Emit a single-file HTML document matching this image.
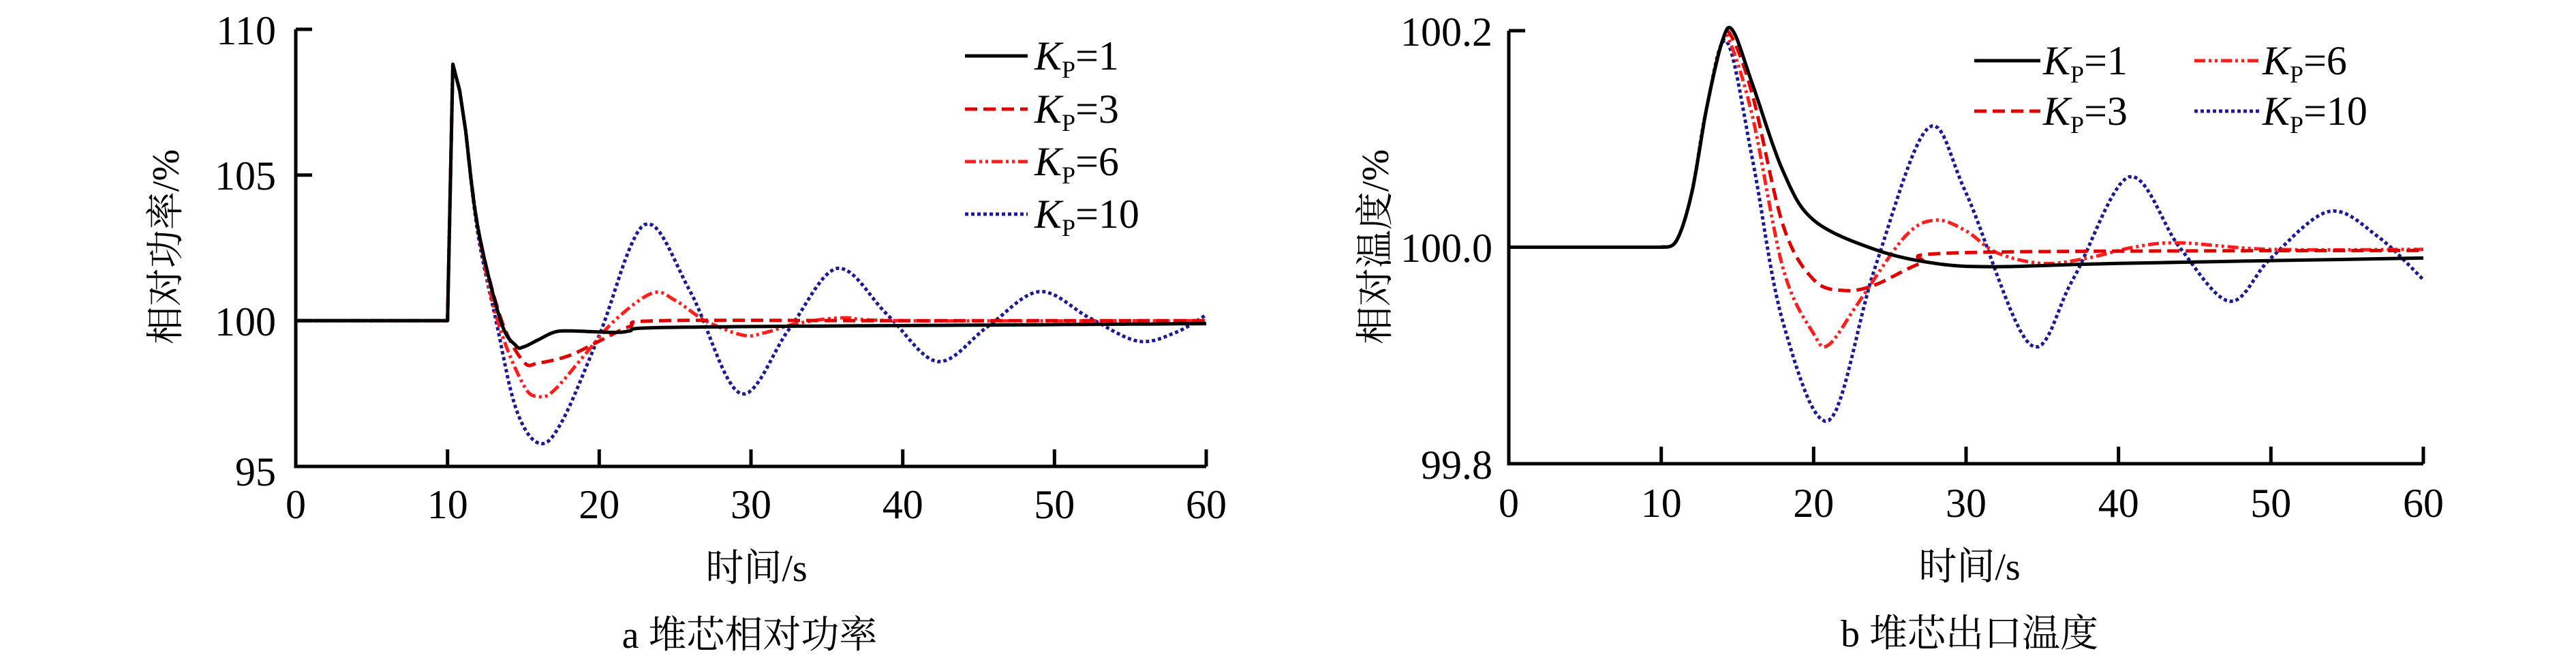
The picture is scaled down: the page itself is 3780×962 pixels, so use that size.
<!DOCTYPE html>
<html><head><meta charset="utf-8"><style>
html,body{margin:0;padding:0;background:#fff}
svg{display:block}
text{font-family:"Liberation Serif","Noto Serif CJK SC",serif;fill:#000}
.t{font-size:60px}
.c{font-family:"Liberation Serif","Noto Sans CJK SC",serif;font-size:56px}
</style></head><body>
<svg id="s" width="3780" height="962" viewBox="0 0 3780 962" xmlns="http://www.w3.org/2000/svg">
<g stroke="#000" stroke-width="5" fill="none">
<path d="M434,43 V684 H1770"/>
<path d="M434,43 H458 M434,256.7 H458 M434,470.3 H458"/>
<path d="M656.7,684 V659 M879.3,684 V659 M1102,684 V659 M1324.7,684 V659 M1547.3,684 V659 M1770,684 V659"/>
<path d="M2214,45 V680 H3556"/>
<path d="M2214,45 H2238 M2214,362.5 H2238"/>
<path d="M2437.7,680 V655 M2661.3,680 V655 M2885,680 V655 M3108.7,680 V655 M3332.3,680 V655 M3556,680 V655"/>
</g>
<g class="t" text-anchor="end">
<text x="405" y="65">110</text><text x="405" y="278">105</text><text x="405" y="492">100</text><text x="405" y="712">95</text>
<text x="2190" y="67">100.2</text><text x="2190" y="384">100.0</text><text x="2190" y="702">99.8</text>
</g>
<g class="t" text-anchor="middle">
<text x="434" y="760">0</text><text x="656.7" y="760">10</text><text x="879.3" y="760">20</text><text x="1102" y="760">30</text><text x="1324.7" y="760">40</text><text x="1547.3" y="760">50</text><text x="1770" y="760">60</text>
<text x="2214" y="758">0</text><text x="2437.7" y="758">10</text><text x="2661.3" y="758">20</text><text x="2885" y="758">30</text><text x="3108.7" y="758">40</text><text x="3332.3" y="758">50</text><text x="3556" y="758">60</text>
</g>
<g class="c" text-anchor="middle">
<text x="1110" y="852">时间/s</text>
<text x="2890" y="850">时间/s</text>
<text x="1100" y="950">a  堆芯相对功率</text>
<text x="2890" y="948">b  堆芯出口温度</text>
<text transform="translate(262,362) rotate(-90)">相对功率/%</text>
<text transform="translate(2037,362) rotate(-90)">相对温度/%</text>
</g>
<g id="curves" fill="none" stroke-width="5" stroke-linejoin="round"></g>
<g fill="none" stroke-width="5">
<path d="M1416,82 H1508" stroke="#000"/>
<path d="M1416,160 H1508" stroke="#e00000" stroke-dasharray="18,9"/>
<path d="M1416,237 H1508" stroke="#ff1e1e" stroke-dasharray="16,5,4,5,4,5"/>
<path d="M1416,314 H1508" stroke="#1a1a96" stroke-dasharray="5,4"/>
<path d="M2897,89 H2994" stroke="#000"/>
<path d="M2897,163 H2994" stroke="#e00000" stroke-dasharray="18,9"/>
<path d="M3220,89 H3317" stroke="#ff1e1e" stroke-dasharray="16,5,4,5,4,5"/>
<path d="M3220,163 H3317" stroke="#1a1a96" stroke-dasharray="5,4"/>
</g>
<g class="t">
<text x="1518" y="102"><tspan font-style="italic">K</tspan><tspan font-size="36" dy="12">P</tspan><tspan dy="-12">=1</tspan></text>
<text x="1518" y="180"><tspan font-style="italic">K</tspan><tspan font-size="36" dy="12">P</tspan><tspan dy="-12">=3</tspan></text>
<text x="1518" y="257"><tspan font-style="italic">K</tspan><tspan font-size="36" dy="12">P</tspan><tspan dy="-12">=6</tspan></text>
<text x="1518" y="334"><tspan font-style="italic">K</tspan><tspan font-size="36" dy="12">P</tspan><tspan dy="-12">=10</tspan></text>
<text x="2998" y="109"><tspan font-style="italic">K</tspan><tspan font-size="36" dy="12">P</tspan><tspan dy="-12">=1</tspan></text>
<text x="2998" y="183"><tspan font-style="italic">K</tspan><tspan font-size="36" dy="12">P</tspan><tspan dy="-12">=3</tspan></text>
<text x="3320" y="109"><tspan font-style="italic">K</tspan><tspan font-size="36" dy="12">P</tspan><tspan dy="-12">=6</tspan></text>
<text x="3320" y="183"><tspan font-style="italic">K</tspan><tspan font-size="36" dy="12">P</tspan><tspan dy="-12">=10</tspan></text>
</g>
</svg>
<script>
function spl(pts,fx,fy){
  var out=[];
  for(var i=0;i<pts.length-1;i++){
    var p0=pts[Math.max(0,i-1)],p1=pts[i],p2=pts[i+1],p3=pts[Math.min(pts.length-1,i+2)];
    for(var k=0;k<12;k++){
      var s=k/12,s2=s*s,s3=s2*s;
      var f=function(a,b,c,d){return 0.5*((2*b)+(-a+c)*s+(2*a-5*b+4*c-d)*s2+(-a+3*b-3*c+d)*s3);};
      out.push(fx(f(p0[0],p1[0],p2[0],p3[0])).toFixed(1)+","+fy(f(p0[1],p1[1],p2[1],p3[1])).toFixed(1));
    }
  }
  var l=pts[pts.length-1];out.push(fx(l[0]).toFixed(1)+","+fy(l[1]).toFixed(1));
  return out;
}
function mk(lin,sp,fx,fy){
  var o=lin.map(function(p){return fx(p[0]).toFixed(1)+","+fy(p[1]).toFixed(1);});
  return "M"+o.concat(spl(sp,fx,fy)).join(" L");
}
var ax=function(t){return 434+t*22.267},ay=function(v){return 43+(110-v)*42.733};
var bx=function(t){return 2214+t*22.367},by=function(v){return 45+(100.2-v)*1587.5};
var A0=[[0,100],[10,100],[10.35,108.8],[10.8,107.9]];
var a1=[[11.2,106.5],[12,103.2],[13.5,100],[14.5,99.15],[15,99.1],[16,99.35],[17,99.6],[18,99.65],[21,99.6],[22,99.65],[23,99.75],[30,99.8],[45,99.85],[60,99.9]];
var a3=[[11.2,106.5],[12,103.2],[13.5,100.1],[15,98.6],[16,98.55],[18,98.8],[20,99.3],[22,99.8],[24,100],[40,100],[60,100]];
var a6=[[11.2,106.5],[12,103.2],[13.3,100],[15,97.8],[16,97.4],[17,97.6],[19,98.8],[21,100],[23.5,100.95],[25,100.7],[27,100],[29.5,99.5],[31,99.6],[33,99.9],[36,100.1],[40,100],[60,100]];
var a10=[[11.2,106.5],[12,103],[13.2,100],[14.5,97],[16,95.8],[17.5,96.5],[20,99.5],[23,103.3],[26,101],[29.3,97.5],[32.5,99.7],[35.7,101.8],[39,100.2],[42.3,98.6],[45.6,99.8],[49,101],[52.3,100.1],[55.5,99.3],[58,99.6],[60,100.2]];
var B0=[[0,100],[10,100]];
var b1=[[10,100],[11,100.006],[12,100.05],[13,100.13],[14,100.19],[14.7,100.2],[16,100.15],[18,100.07],[20,100.025],[24,99.998],[28,99.985],[32,99.982],[40,99.985],[60,99.99]];
var b3=[[10,100],[11,100.006],[12,100.05],[13,100.13],[14,100.19],[14.6,100.195],[16,100.14],[18,100.02],[20,99.97],[22,99.96],[24,99.965],[27,99.985],[30,99.995],[60,99.997]];
var b6=[[10,100],[11,100.006],[12,100.05],[13,100.13],[14,100.19],[14.5,100.19],[16,100.12],[18,99.98],[20,99.92],[21,99.91],[23,99.95],[26,100.01],[28,100.025],[30,100.015],[32,99.995],[35,99.985],[38,99.99],[41,100],[44,100.004],[50,99.998],[60,99.998]];
var b10=[[10,100],[11,100.006],[12,100.05],[13,100.13],[14.3,100.19],[16,100.08],[18,99.93],[21,99.84],[24,99.98],[27.5,100.11],[30,100.05],[34.2,99.91],[37,99.97],[40.7,100.065],[44,100],[47.3,99.95],[50,99.99],[53.8,100.033],[57,100.01],[60,99.97]];
var S=[["#000",""],["#e00000","18,9"],["#ff1e1e","16,5,4,5,4,5"],["#1a1a96","5,4"]];
var g=document.getElementById("curves"),h="";
[[a1,a3,a6,a10,ax,ay,A0],[b1,b3,b6,b10,bx,by,[[0,100]]]].forEach(function(set){
  for(var i=3;i>=0;i--){
    h+='<path d="'+mk(set[6],set[i],set[4],set[5])+'" stroke="'+S[i][0]+'"'+(S[i][1]?' stroke-dasharray="'+S[i][1]+'"':'')+'/>';
  }
});
g.innerHTML=h;
</script>
</body></html>
